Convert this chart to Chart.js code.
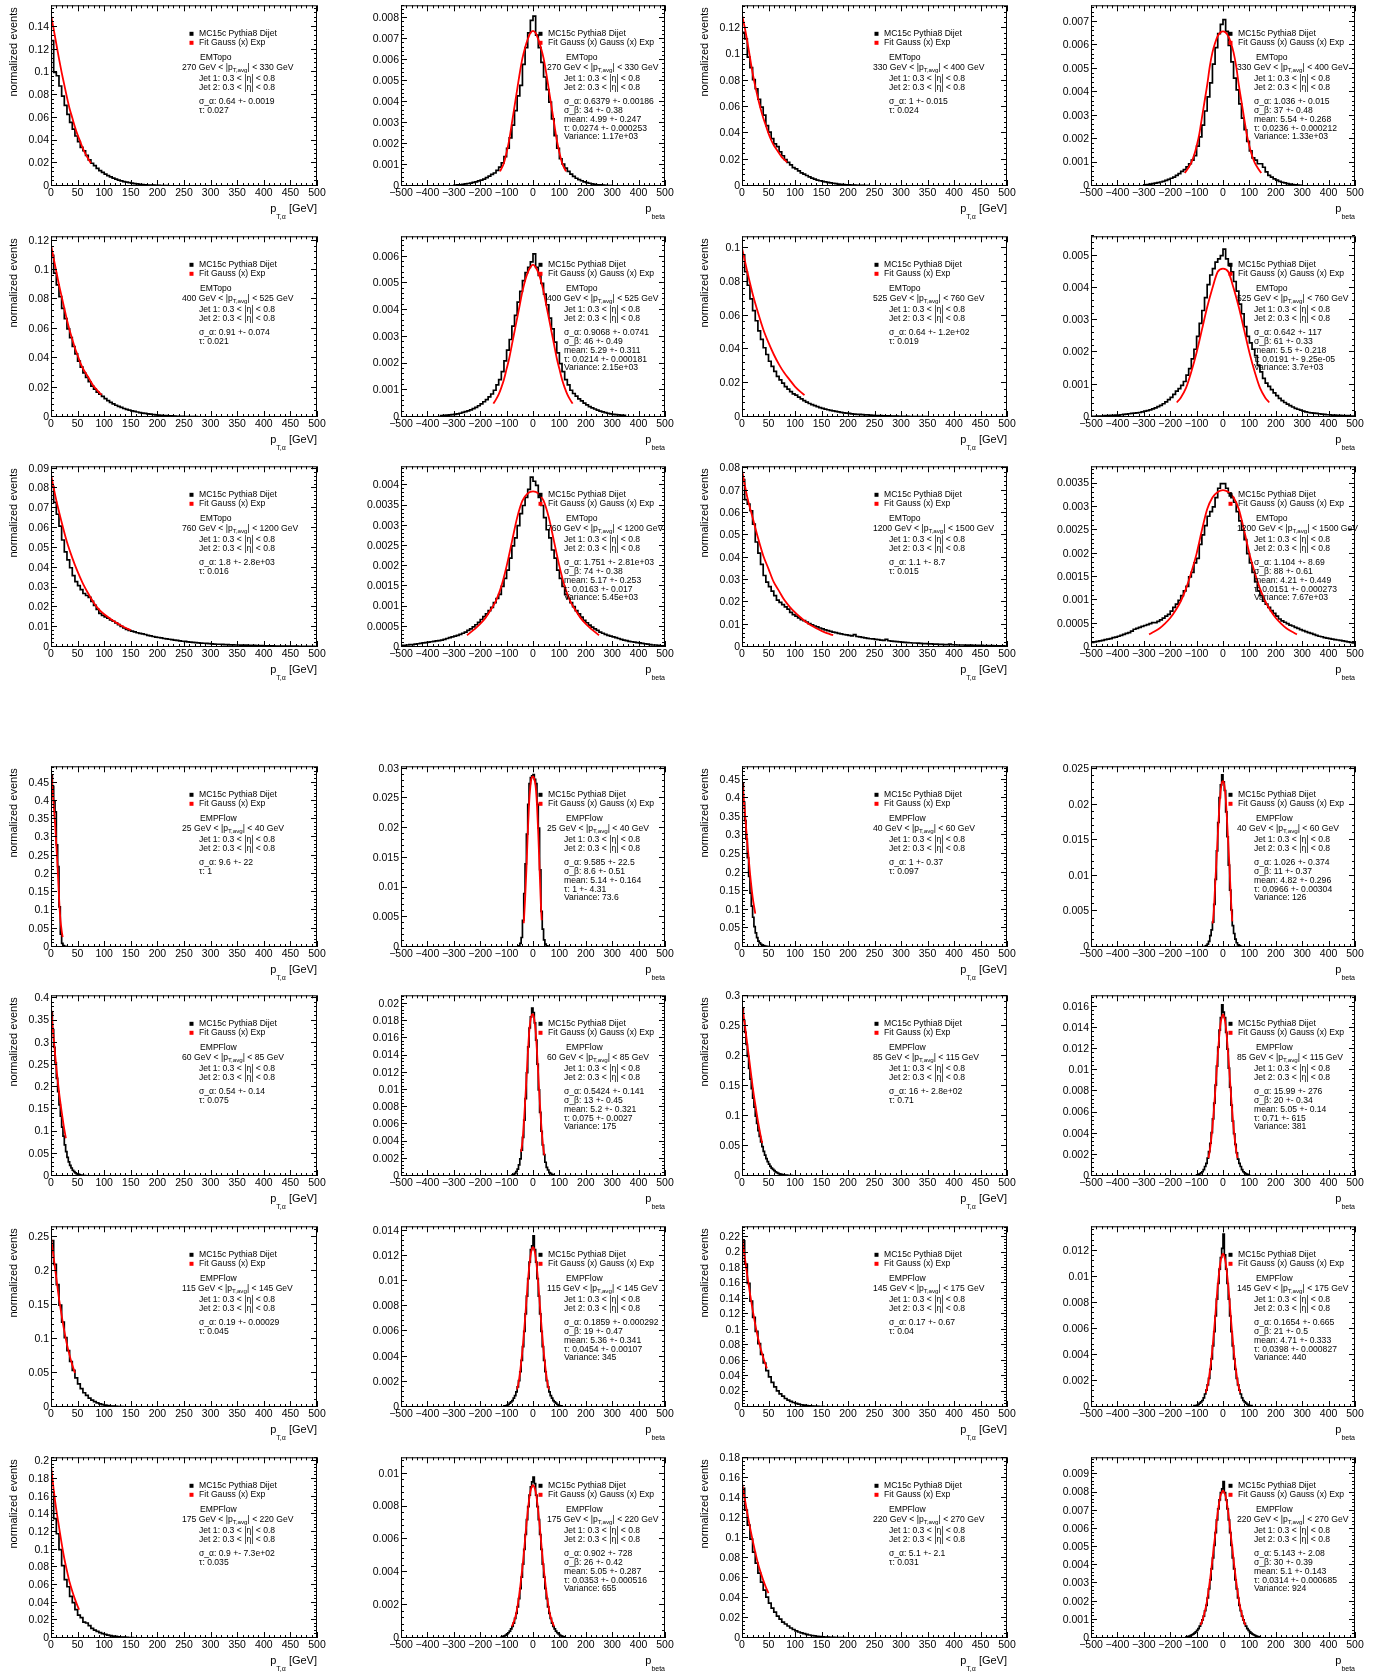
<!DOCTYPE html>
<html>
<head>
<meta charset="utf-8">
<script src="https://cdn.jsdelivr.net/npm/chart.js@4.4.1/dist/chart.umd.min.js"></script>
<style>
  html, body { margin: 0; padding: 0; background: #fff; }
  body { width: 1375px; height: 1672px; position: relative; overflow: hidden; }
  canvas { position: absolute; }
</style>
</head>
<body>
<script>
// ---------------- pT bins (|pT,avg| ranges, GeV) ----------------
const ptRanges = [[270,330],[330,400],[400,525],[525,760],[760,1200],[1200,1500],
                  [25,40],[40,60],[60,85],[85,115],[115,145],[145,175],[175,220],[220,270]];

// ---------------- y axis ranges / major steps, panel order (row by row) ----------------
const yAxisMax  = [0.159,0.00862,0.1375,0.00771, 0.123,0.00676,0.107,0.0056,
                   0.0912,0.00447,0.0809,0.00387, 0.495,0.0304,0.486,0.0254,
                   0.407,0.021,0.302,0.0171, 0.266,0.01435,0.234,0.0139,
                   0.2045,0.011,0.181,0.00994];
const yAxisStep = [0.02,0.001,0.02,0.001, 0.02,0.001,0.02,0.001,
                   0.01,0.0005,0.01,0.0005, 0.05,0.005,0.05,0.005,
                   0.05,0.002,0.05,0.002, 0.05,0.002,0.02,0.002,
                   0.02,0.002,0.02,0.001];
const xTicksAlpha = [0,50,100,150,200,250,300,350,400,450,500];
const xTicksBeta  = [-500,-400,-300,-200,-100,0,100,200,300,400,500];

// ================= EMTopo =================
// 270-330
const topoAlpha270 = [0.128,0.100,0.097,0.088,0.079,0.071,0.063,0.056,0.050,0.044,0.039,0.034,0.031,0.027,0.023,0.020,0.018,0.0155,0.0135,0.012,0.0105,0.0092,0.008,0.007,0.006,0.0052,0.0045,0.0039,0.0034,0.0029,0.0025,0.0021,0.0018,0.0015,0.0013,0.0011,0.0009,0.0008,0.0007,0.0006,0.0005,0.0004,0.0003,0.0003,0.0002,0.0002,0.0001,0.0001];
const topoAlpha270FitX = [0,5,10,15,20,25,30,35,40,45,50,55,60,65,70,75];
const topoAlpha270FitY = [0.150,0.138,0.125,0.112,0.100,0.089,0.078,0.068,0.060,0.052,0.045,0.039,0.033,0.028,0.024,0.020];
const topoAlpha270Text = ['σ_α: 0.64 +- 0.0019','τ: 0.027'];

const topoBeta270 = [0.00003,0.00005,0.00006,0.00008,0.0001,0.00012,0.00014,0.00017,0.0002,0.00024,0.00028,0.00033,0.0004,0.00047,0.00055,0.00062,0.00075,0.0009,0.0011,0.0014,0.0018,0.0023,0.0029,0.0036,0.0043,0.0048,0.0058,0.0066,0.0073,0.0079,
  0.0081,0.0072,0.0066,0.0059,0.0052,0.0046,0.004,0.0032,0.0024,0.0018,0.0013,0.00105,0.00085,0.0007,0.00057,0.00046,0.00037,0.0003,0.00025,0.0002,0.00016,0.00013,0.0001,0.00008,0.00006,0.00005,0.00004,0.00003,0.00002,0.00002];
const topoBeta270FitX = [-125,-110,-100,-90,-80,-70,-60,-50,-40,-30,-20,-10,0,10,20,30,40,50,60,70,80,90,100,110,125];
const topoBeta270FitY = [0.0007,0.0011,0.0016,0.0022,0.0030,0.0038,0.0046,0.0054,0.0061,0.0066,0.0070,0.0073,0.0074,0.0073,0.0070,0.0066,0.0061,0.0054,0.0046,0.0038,0.0030,0.0022,0.0016,0.0011,0.0007];
const topoBeta270Text = ['σ_α: 0.6379 +- 0.00186','σ_β: 34 +- 0.38','mean: 4.99 +- 0.247','τ: 0.0274 +- 0.000253','Variance: 1.17e+03'];

// 330-400
const topoAlpha330 = [0.117,0.112,0.098,0.090,0.081,0.074,0.066,0.060,0.054,0.046,0.041,0.036,0.032,0.030,0.026,0.023,0.020,0.018,0.016,0.014,0.013,0.0115,0.010,0.009,0.008,0.007,0.006,0.0052,0.0045,0.004,0.0036,0.0032,0.0028,0.0024,0.0021,0.0018,0.0015,0.0013,0.0011,0.0009,0.0008,0.0007,0.0006,0.0005,0.0004,0.0004,0.0003,0.0003,0.0002,0.0002,0.0002,0.0001];
const topoAlpha330FitX = [0,5,10,15,20,25,30,35,40,45,50,55,60,65,70,75,80,85];
const topoAlpha330FitY = [0.130,0.121,0.110,0.098,0.086,0.076,0.067,0.059,0.052,0.046,0.040,0.035,0.031,0.028,0.025,0.022,0.020,0.018];
const topoAlpha330Text = ['σ_α: 1 +- 0.015','τ: 0.024'];

const topoBeta330 = [0.00005,0.00006,0.00008,0.0001,0.00012,0.00014,0.00017,0.0002,0.00024,0.00028,0.00033,0.00038,0.00045,0.00053,0.00062,0.0007,0.00082,0.00095,0.0011,0.0013,0.0017,0.0021,0.0026,0.0032,0.0038,0.0044,0.0052,0.0059,0.0065,0.0069,
  0.0071,0.0066,0.0060,0.0053,0.0046,0.0041,0.0035,0.0029,0.0024,0.0019,0.0015,0.0012,0.0011,0.00095,0.00095,0.0008,0.0006,0.00045,0.00038,0.0003,0.00025,0.0002,0.00016,0.00013,0.0001,0.00008,0.00006,0.00005,0.00004,0.00003];
const topoBeta330FitX = [-145,-130,-120,-110,-100,-90,-80,-70,-60,-50,-40,-30,-20,-10,0,10,20,30,40,50,60,70,80,90,100,110,120,130,145];
const topoBeta330FitY = [0.00055,0.0008,0.001,0.0013,0.0017,0.0022,0.0029,0.0036,0.0043,0.0051,0.0057,0.0061,0.0064,0.00655,0.0066,0.00655,0.0064,0.0061,0.0057,0.0051,0.0043,0.0036,0.0029,0.0022,0.0017,0.0013,0.001,0.0008,0.00055];
const topoBeta330Text = ['σ_α: 1.036 +- 0.015','σ_β: 37 +- 0.48','mean: 5.54 +- 0.268','τ: 0.0236 +- 0.000212','Variance: 1.33e+03'];

// 400-525
const topoAlpha400 = [0.110,0.098,0.090,0.082,0.074,0.067,0.060,0.054,0.048,0.043,0.038,0.034,0.030,0.027,0.024,0.021,0.019,0.017,0.0155,0.014,0.0125,0.0112,0.010,0.009,0.008,0.0072,0.0065,0.0058,0.0052,0.0047,0.0042,0.0038,0.0034,0.003,0.0027,0.0024,0.0021,0.0019,0.0017,0.0015,0.0013,0.0012,0.001,0.0009,0.0008,0.0007,0.0006,0.0005,0.00045,0.0004,0.00035,0.0003,0.00025,0.0002,0.0002,0.00015,0.00015,0.0001,0.0001,0.0001];
const topoAlpha400FitX = [0,5,10,15,20,25,30,35,40,45,50,55,60,65,70,75,80,85,90,95];
const topoAlpha400FitY = [0.117,0.108,0.099,0.090,0.082,0.074,0.066,0.059,0.053,0.047,0.042,0.037,0.033,0.030,0.027,0.024,0.021,0.019,0.017,0.015];
const topoAlpha400Text = ['σ_α: 0.91 +- 0.074','τ: 0.021'];

const topoBeta400 = [0.00005,0.00006,0.00007,0.00008,0.00009,0.0001,0.00012,0.00014,0.00017,0.0002,0.00023,0.00027,0.00031,0.00036,0.00042,0.00049,0.00057,0.00065,0.00075,0.00086,0.001,0.0012,0.0014,0.0017,0.0021,0.0025,0.0029,0.0034,0.0038,0.0043,0.0047,0.0051,0.0054,0.0056,0.0058,
  0.0061,0.0056,0.0053,0.0050,0.0046,0.0042,0.0037,0.0033,0.0028,0.0024,0.0020,0.0017,0.0014,0.0012,0.0010,0.00088,0.00078,0.00068,0.0006,0.00052,0.00045,0.00039,0.00034,0.0003,0.00026,0.00022,0.00019,0.00016,0.00014,0.00012,0.0001,0.00009,0.00008,0.00007,0.00006];
const topoBeta400FitX = [-150,-140,-130,-120,-110,-100,-90,-80,-70,-60,-50,-40,-30,-20,-10,0,10,20,30,40,50,60,70,80,90,100,110,120,130,140,150];
const topoBeta400FitY = [0.0005,0.00066,0.00085,0.0011,0.0014,0.0018,0.0022,0.0027,0.0032,0.0037,0.0042,0.0047,0.0051,0.0054,0.0056,0.0057,0.0056,0.0054,0.0051,0.0047,0.0042,0.0037,0.0032,0.0027,0.0022,0.0018,0.0014,0.0011,0.00085,0.00066,0.0005];
const topoBeta400Text = ['σ_α: 0.9068 +- 0.0741','σ_β: 46 +- 0.49','mean: 5.29 +- 0.311','τ: 0.0214 +- 0.000181','Variance: 2.15e+03'];

// 525-760
const topoAlpha525 = [0.096,0.086,0.078,0.070,0.063,0.057,0.051,0.046,0.041,0.037,0.033,0.030,0.027,0.024,0.022,0.020,0.018,0.0165,0.015,0.0137,0.013,0.0118,0.0107,0.0097,0.0088,0.008,0.0073,0.0067,0.0061,0.0056,0.0051,0.0047,0.0043,0.0039,0.0036,0.0033,0.003,0.0027,0.0025,0.0023,0.0021,0.0019,0.0017,0.0016,0.0015,0.0014,0.0013,0.0012,0.0011,0.001,0.0009,0.00085,0.0008,0.00075,0.0007,0.00065,0.0006,0.00055,0.0005,0.00045,0.0004,0.00038,0.00035,0.0003,0.0003,0.00025,0.00025,0.0002,0.0002,0.0002,0.00015,0.00015,0.00012,0.0001,0.0001,0.0001,0.0001,0.00008,0.00008,0.00006];
const topoAlpha525FitX = [0,10,20,30,40,50,60,70,80,90,100,110,118];
const topoAlpha525FitY = [0.100,0.086,0.073,0.062,0.052,0.044,0.037,0.031,0.026,0.022,0.018,0.015,0.013];
const topoAlpha525Text = ['σ_α: 0.64 +- 1.2e+02','τ: 0.019'];

const topoBeta525 = [0.00002,0.00002,0.00003,0.00003,0.00003,0.00004,0.00004,0.00005,0.00005,0.00006,0.00006,0.00007,0.00008,0.00009,0.0001,0.00011,0.00012,0.00013,0.00014,0.00016,0.00018,0.0002,0.00022,0.00025,0.00028,0.00032,0.00036,0.00041,0.00047,0.00054,0.00061,0.0007,0.0008,0.00088,0.00098,0.0011,0.0013,0.0015,0.0018,0.0021,0.0025,0.0029,0.0033,0.0037,0.0041,0.0044,0.0046,0.0048,0.0049,0.005,
  0.0052,0.0049,0.0047,0.0045,0.0042,0.0039,0.0035,0.0032,0.0028,0.0025,0.0023,0.0021,0.0019,0.0016,0.0014,0.0012,0.00105,0.00095,0.00085,0.00075,0.00066,0.00058,0.00051,0.00045,0.0004,0.00035,0.00031,0.00027,0.00024,0.00021,0.00018,0.00016,0.00014,0.00013,0.00012,0.00011,0.0001,0.00009,0.00008,0.00007,0.00007,0.00006,0.00006,0.00005,0.00005,0.00004,0.00004,0.00004,0.00003,0.00003];
const topoBeta525FitX = [-175,-160,-140,-120,-100,-80,-60,-40,-20,0,20,40,60,80,100,120,140,160,175];
const topoBeta525FitY = [0.00045,0.0006,0.0009,0.0014,0.002,0.0027,0.0034,0.004,0.0045,0.0046,0.0045,0.004,0.0034,0.0027,0.002,0.0014,0.0009,0.0006,0.00045];
const topoBeta525Text = ['σ_α: 0.642 +- 117','σ_β: 61 +- 0.33','mean: 5.5 +- 0.218','τ: 0.0191 +- 9.25e-05','Variance: 3.7e+03'];

// 760-1200
const topoAlpha760 = [0.081,0.073,0.067,0.061,0.054,0.048,0.044,0.040,0.036,0.033,0.031,0.029,0.027,0.026,0.025,0.023,0.021,0.019,0.017,0.016,
  0.0152,0.0145,0.0137,0.013,0.0122,0.0113,0.0104,0.0096,0.0089,0.0084,0.008,0.0076,0.0072,0.0069,0.0066,0.0063,0.0059,0.0056,0.0053,0.005,
  0.0048,0.0046,0.0043,0.0041,0.0039,0.0037,0.0035,0.0033,0.0031,0.0029,0.0028,0.0026,0.0025,0.0023,0.0022,0.0021,0.002,0.0019,0.0018,0.0017,
  0.0016,0.0015,0.0014,0.0014,0.0013,0.0012,0.0012,0.0011,0.0011,0.001,0.001,0.0009,0.0009,0.0009,0.0008,0.0008,0.0008,0.0007,0.0007,0.0007,
  0.0006,0.0006,0.0006,0.0006,0.0005,0.0005,0.0005,0.0005,0.0004,0.0004,0.0004,0.0004,0.0004,0.0003,0.0003,0.0003,0.0003,0.0003,0.0003,0.0002];
const topoAlpha760FitX = [0,10,20,30,40,50,60,70,80,90,100,110,120,130,140,150];
const topoAlpha760FitY = [0.087,0.074,0.063,0.053,0.045,0.038,0.032,0.027,0.0225,0.019,0.0165,0.0145,0.0127,0.0111,0.0097,0.0085];
const topoAlpha760Text = ['σ_α: 1.8 +- 2.8e+03','τ: 0.016'];

const topoBeta760 = [0.00004,0.00004,0.00005,0.00006,0.00006,0.00007,0.00008,0.00009,0.0001,0.00011,0.00012,0.00013,0.00014,0.00015,0.00016,0.00017,0.00019,0.00021,0.00023,0.00025,0.00027,0.00029,0.00031,0.00034,0.00037,0.00041,0.00045,0.0005,0.00055,0.00061,0.00068,0.00075,0.00082,0.0009,0.00098,0.0011,0.0012,0.0013,0.0015,0.0017,0.0019,0.0022,0.0025,0.0027,0.003,0.0033,0.0035,0.0037,0.0039,0.0042,
  0.0041,0.004,0.0037,0.0035,0.0032,0.0029,0.0027,0.0024,0.0022,0.0019,0.0017,0.0015,0.0013,0.0012,0.0011,0.001,0.0009,0.00082,0.00074,0.00066,0.0006,0.00054,0.00049,0.00045,0.00041,0.00037,0.00034,0.00031,0.00029,0.00027,0.00025,0.00023,0.00021,0.00019,0.00017,0.00016,0.00014,0.00013,0.00012,0.00011,0.0001,0.00009,0.00008,0.00007,0.00006,0.00005,0.00005,0.00004,0.00003,0.00003];
const topoBeta760FitX = [-250,-220,-200,-180,-160,-140,-120,-100,-80,-60,-40,-20,0,20,40,60,80,100,120,140,160,180,200,220,250];
const topoBeta760FitY = [0.00029,0.00045,0.00057,0.00072,0.00092,0.00115,0.0015,0.002,0.0026,0.0032,0.00362,0.0038,0.00385,0.0038,0.00362,0.0032,0.0026,0.002,0.0015,0.00115,0.00092,0.00072,0.00057,0.00045,0.00029];
const topoBeta760Text = ['σ_α: 1.751 +- 2.81e+03','σ_β: 74 +- 0.38','mean: 5.17 +- 0.253','τ: 0.0163 +- 0.017','Variance: 5.45e+03'];

// 1200-1500
const topoAlpha1200 = [0.075,0.066,0.064,0.061,0.055,0.047,0.042,0.037,0.032,0.029,0.027,0.025,0.023,0.021,0.020,0.019,0.018,0.017,0.0155,0.0145,
  0.0138,0.013,0.0122,0.0118,0.0112,0.0105,0.0099,0.0094,0.009,0.0085,0.0081,0.0077,0.0073,0.007,0.0067,0.0064,0.0061,0.0059,0.0056,0.0054,
  0.0052,0.005,0.0055,0.0047,0.0045,0.0043,0.0041,0.0039,0.0037,0.0036,0.0034,0.0033,0.0031,0.003,0.0034,0.0028,0.0026,0.0025,0.0024,0.0023,
  0.0022,0.0021,0.002,0.0019,0.0018,0.0018,0.0017,0.0016,0.0015,0.0015,0.0014,0.0014,0.0013,0.0013,0.0012,0.0012,0.0011,0.0011,0.0013,0.001,
  0.001,0.0009,0.0009,0.0009,0.0008,0.0008,0.0008,0.0007,0.0007,0.0007,0.0007,0.0006,0.0006,0.0006,0.0006,0.0005,0.0005,0.0005,0.0005,0.0004];
const topoAlpha1200FitX = [0,10,20,30,40,50,60,70,80,90,100,110,120,130,140,150,160,172];
const topoAlpha1200FitY = [0.079,0.067,0.058,0.049,0.041,0.035,0.029,0.025,0.021,0.018,0.0155,0.0133,0.0113,0.0097,0.0084,0.0072,0.0062,0.0053];
const topoAlpha1200Text = ['σ_α: 1.1 +- 8.7','τ: 0.015'];

const topoBeta1200 = [0.0001,0.00011,0.00012,0.00013,0.00014,0.00016,0.00017,0.00018,0.0002,0.00021,0.00023,0.00025,0.00027,0.00029,0.00031,0.00034,0.00038,0.0004,0.00042,0.00044,0.00046,0.00048,0.0005,0.00052,0.00052,0.00055,0.00058,0.00062,0.00066,0.0007,0.00077,0.00085,0.00092,0.001,0.0011,0.0012,0.0013,0.0015,0.0016,0.0018,0.0019,0.0022,0.0024,0.0026,0.0028,0.0029,0.003,0.0032,0.0034,0.0035,
  0.0035,0.0034,0.0033,0.0032,0.0031,0.0029,0.0027,0.0025,0.0023,0.002,0.0018,0.0016,0.0014,0.0012,0.0011,0.00098,0.00092,0.00085,0.00078,0.00072,0.00066,0.0006,0.00056,0.00053,0.0005,0.00047,0.00045,0.00042,0.0004,0.00037,0.00035,0.00033,0.00031,0.00029,0.00027,0.00025,0.00023,0.00022,0.0002,0.00019,0.00018,0.00017,0.00016,0.00015,0.00014,0.00013,0.00012,0.00011,0.0001,0.00009];
const topoBeta1200FitX = [-280,-260,-240,-220,-200,-180,-160,-140,-120,-100,-80,-60,-40,-20,0,20,40,60,80,100,120,140,160,180,200,220,240,260,280];
const topoBeta1200FitY = [0.00027,0.00033,0.0004,0.0005,0.00062,0.00078,0.00098,0.00125,0.0016,0.002,0.0025,0.00295,0.0032,0.00332,0.00336,0.00332,0.0032,0.00295,0.0025,0.002,0.0016,0.00125,0.00098,0.00078,0.00062,0.0005,0.0004,0.00033,0.00027];
const topoBeta1200Text = ['σ_α: 1.104 +- 8.69','σ_β: 88 +- 0.61','mean: 4.21 +- 0.449','τ: 0.0151 +- 0.000273','Variance: 7.67e+03'];

// ================= EMPFlow =================
// 25-40
const pflowAlpha25 = [0.47,0.44,0.40,0.37,0.28,0.22,0.11,0.035,0.01,0.004,0.002,0.001];
const pflowAlpha25FitX = [0,2,4,6,8,10,12,14,16,18,20,22];
const pflowAlpha25FitY = [0.48,0.45,0.41,0.37,0.33,0.28,0.23,0.17,0.11,0.07,0.045,0.027];
const pflowAlpha25Text = ['σ_α: 9.6 +- 22','τ: 1'];

const pflowBeta25 = [0.0,0.0002,0.0006,0.0016,0.0045,0.009,0.014,0.019,0.024,0.0275,0.0285,0.0288,0.029,0.0282,0.0275,0.024,0.020,0.013,0.006,0.003,0.0012,0.0005,0.0002,0.0001];
const pflowBeta25FitX = [-35,-30,-25,-20,-15,-10,-5,0,5,10,15,20,25,30,33];
const pflowBeta25FitY = [0.004,0.008,0.013,0.019,0.024,0.027,0.0285,0.0287,0.0283,0.027,0.024,0.019,0.013,0.007,0.0045];
const pflowBeta25Text = ['σ_α: 9.585 +- 22.5','σ_β: 8.6 +- 0.51','mean: 5.14 +- 0.164','τ: 1 +- 4.31','Variance: 73.6'];

// 40-60
const pflowAlpha40 = [0.44,0.39,0.34,0.29,0.24,0.19,0.145,0.11,0.08,0.055,0.038,0.025,0.016,0.011,0.007,0.005,0.0035,0.0025,0.0018,0.0012,0.0008,0.0005];
const pflowAlpha40FitX = [0,5,10,15,20,25];
const pflowAlpha40FitY = [0.45,0.37,0.28,0.20,0.135,0.09];
const pflowAlpha40Text = ['σ_α: 1 +- 0.37','τ: 0.097'];

const pflowBeta40 = [0.0001,0.0002,0.0004,0.0008,0.0016,0.0024,0.0035,0.006,0.0095,0.0135,0.0175,0.021,0.0228,0.0242,0.0232,0.022,0.019,0.0155,0.0115,0.008,0.0052,0.003,0.0019,0.0011,0.0006,0.0003,0.0002,0.0001];
const pflowBeta40FitX = [-39,-35,-30,-25,-20,-15,-10,-5,0,5,10,15,20,25,30,35];
const pflowBeta40FitY = [0.0033,0.005,0.0085,0.012,0.0155,0.019,0.0215,0.023,0.0233,0.0228,0.021,0.018,0.0145,0.011,0.0068,0.0036];
const pflowBeta40Text = ['σ_α: 1.026 +- 0.374','σ_β: 11 +- 0.37','mean: 4.82 +- 0.296','τ: 0.0966 +- 0.00304','Variance: 126'];

// 60-85
const pflowAlpha60 = [0.37,0.33,0.29,0.255,0.22,0.19,0.16,0.135,0.11,0.09,0.07,0.055,0.042,0.032,0.024,0.018,0.013,0.01,0.007,0.005,0.004,0.003,0.002,0.0015,0.001,0.0007,0.0005,0.0003];
const pflowAlpha60FitX = [0,5,10,15,20,25,28];
const pflowAlpha60FitY = [0.38,0.31,0.245,0.19,0.145,0.105,0.085];
const pflowAlpha60Text = ['σ_α: 0.54 +- 0.14','τ: 0.075'];

const pflowBeta60 = [0.0001,0.0002,0.0003,0.0005,0.0008,0.0013,0.002,0.003,0.0045,0.0065,0.009,0.012,0.015,0.0172,0.0185,0.0195,0.019,0.0178,0.0158,0.013,0.010,0.0074,0.0052,0.0036,0.0025,0.0016,0.001,0.0007,0.0004,0.0003,0.0002,0.0001];
const pflowBeta60FitX = [-45,-40,-35,-30,-25,-20,-15,-10,-5,0,5,10,15,20,25,30,35,40,43];
const pflowBeta60FitY = [0.0028,0.004,0.006,0.0085,0.0112,0.014,0.0165,0.018,0.0187,0.0188,0.0182,0.0168,0.0145,0.0118,0.009,0.0065,0.0045,0.003,0.0024];
const pflowBeta60Text = ['σ_α: 0.5424 +- 0.141','σ_β: 13 +- 0.45','mean: 5.2 +- 0.321','τ: 0.075 +- 0.0027','Variance: 175'];

// 85-115
const pflowAlpha85 = [0.28,0.26,0.24,0.22,0.2,0.18,0.162,0.146,0.13,0.115,0.1,0.088,0.076,0.066,0.057,0.049,0.041,0.035,0.029,0.024,0.02,0.016,0.013,0.011,0.009,0.007,0.0055,0.0045,0.0035,0.003,0.0024,0.002,0.0016,0.0013,0.001,0.0008,0.0006,0.0005,0.0004,0.0003];
const pflowAlpha85FitX = [0,5,10,15,20,25,30,35,38];
const pflowAlpha85FitY = [0.285,0.255,0.22,0.185,0.15,0.12,0.092,0.068,0.055];
const pflowAlpha85Text = ['σ_α: 16 +- 2.8e+02','τ: 0.71'];

const pflowBeta85 = [0.0001,0.00015,0.0002,0.0003,0.0004,0.0006,0.0009,0.0012,0.0017,0.0023,0.0031,0.0041,0.0054,0.0069,0.0086,0.0104,0.0122,0.0138,0.015,0.0162,
  0.0155,0.015,0.0136,0.012,0.0102,0.0084,0.0067,0.0052,0.004,0.003,0.0022,0.0016,0.0012,0.0009,0.0006,0.0004,0.0003,0.0002,0.00015,0.0001];
const pflowBeta85FitX = [-55,-50,-45,-40,-35,-30,-25,-20,-15,-10,-5,0,5,10,15,20,25,30,35,40,45,50,55];
const pflowBeta85FitY = [0.0017,0.0024,0.0034,0.0046,0.0061,0.0078,0.0096,0.0114,0.013,0.0143,0.015,0.0153,0.015,0.0143,0.013,0.0114,0.0096,0.0078,0.0061,0.0046,0.0034,0.0024,0.0017];
const pflowBeta85Text = ['σ_α: 15.99 +- 276','σ_β: 20 +- 0.34','mean: 5.05 +- 0.14','τ: 0.71 +- 615','Variance: 381'];

// 115-145
const pflowAlpha115 = [0.245,0.21,0.18,0.15,0.125,0.102,0.083,0.067,0.054,0.043,0.034,0.027,0.021,0.017,0.013,0.01,0.008,0.006,0.0046,0.0035,0.0027,0.002,0.0015,0.0012,0.0009,0.0007,0.0005,0.0004,0.0003,0.0002];
const pflowAlpha115FitX = [0,5,10,15,20,25,30,35,40,45];
const pflowAlpha115FitY = [0.25,0.22,0.19,0.16,0.135,0.112,0.092,0.076,0.062,0.05];
const pflowAlpha115Text = ['σ_α: 0.19 +- 0.00029','τ: 0.045'];

const pflowBeta115 = [0.0001,0.0001,0.00015,0.0002,0.0003,0.0004,0.0005,0.0007,0.0009,0.0012,0.0016,0.0021,0.0028,0.0037,0.0048,0.006,0.0074,0.0088,0.0102,0.0115,0.0125,0.0128,
  0.0136,0.0125,0.0115,0.0102,0.0088,0.0074,0.006,0.0048,0.0037,0.0028,0.0021,0.0016,0.0012,0.0009,0.0007,0.0005,0.0004,0.0003,0.0002,0.00015,0.0001,0.0001];
const pflowBeta115FitX = [-60,-55,-50,-45,-40,-35,-30,-25,-20,-15,-10,-5,0,5,10,15,20,25,30,35,40,45,50,55,60];
const pflowBeta115FitY = [0.0014,0.0019,0.0026,0.0035,0.0045,0.0057,0.007,0.0084,0.0098,0.011,0.0119,0.0125,0.0127,0.0125,0.0119,0.011,0.0098,0.0084,0.007,0.0057,0.0045,0.0035,0.0026,0.0019,0.0014];
const pflowBeta115Text = ['σ_α: 0.1859 +- 0.000292','σ_β: 19 +- 0.47','mean: 5.36 +- 0.341','τ: 0.0454 +- 0.00107','Variance: 345'];

// 145-175
const pflowAlpha145 = [0.215,0.185,0.16,0.137,0.116,0.098,0.082,0.068,0.057,0.047,0.039,0.032,0.026,0.021,0.017,0.014,0.011,0.009,0.0072,0.0058,0.0046,0.0037,0.0029,0.0023,0.0018,0.0014,0.0011,0.0009,0.0007,0.0005,0.0004,0.0003,0.0002,0.0002];
const pflowAlpha145FitX = [0,5,10,15,20,25,30,35,40,45,47];
const pflowAlpha145FitY = [0.22,0.195,0.17,0.147,0.126,0.107,0.09,0.076,0.064,0.054,0.05];
const pflowAlpha145Text = ['σ_α: 0.17 +- 0.67','τ: 0.04'];

const pflowBeta145 = [0.0001,0.0001,0.00015,0.0002,0.0003,0.0004,0.0005,0.0007,0.001,0.0013,0.0017,0.0022,0.0029,0.0037,0.0047,0.0058,0.007,0.0083,0.0095,0.0106,0.0115,0.0122,
  0.0133,0.0117,0.0106,0.0095,0.0083,0.007,0.0058,0.0047,0.0037,0.0029,0.0022,0.0017,0.0013,0.001,0.0007,0.0005,0.0004,0.0003,0.0002,0.00015,0.0001,0.0001];
const pflowBeta145FitX = [-65,-60,-55,-50,-45,-40,-35,-30,-25,-20,-15,-10,-5,0,5,10,15,20,25,30,35,40,45,50,55,60,65];
const pflowBeta145FitY = [0.0011,0.0015,0.002,0.0027,0.0035,0.0045,0.0056,0.0068,0.0081,0.0093,0.0103,0.0111,0.0116,0.0118,0.0116,0.0111,0.0103,0.0093,0.0081,0.0068,0.0056,0.0045,0.0035,0.0027,0.002,0.0015,0.0011];
const pflowBeta145Text = ['σ_α: 0.1654 +- 0.665','σ_β: 21 +- 0.5','mean: 4.71 +- 0.333','τ: 0.0398 +- 0.000827','Variance: 440'];

// 175-220
const pflowAlpha175 = [0.165,0.135,0.118,0.1,0.082,0.066,0.058,0.047,0.04,0.032,0.026,0.023,0.018,0.017,0.014,0.011,0.009,0.0075,0.006,0.005,0.004,0.0033,0.0027,0.0022,0.0018,0.0014,0.0011,0.0009,0.0007,0.0005,0.0004,0.0003,0.0002];
const pflowAlpha175FitX = [0,5,10,15,20,25,30,35,40,45,50,53];
const pflowAlpha175FitY = [0.195,0.168,0.145,0.126,0.107,0.09,0.076,0.063,0.053,0.044,0.036,0.032];
const pflowAlpha175Text = ['σ_α: 0.9 +- 7.3e+02','τ: 0.035'];

const pflowBeta175 = [0.00007,0.0001,0.00013,0.00018,0.00025,0.00032,0.00042,0.00055,0.0007,0.0009,0.0012,0.0015,0.0019,0.0024,0.003,0.0037,0.0045,0.0054,0.0063,0.0072,0.008,0.0087,0.0092,0.0095,
  0.0098,0.0094,0.0087,0.008,0.0072,0.0063,0.0054,0.0045,0.0037,0.003,0.0024,0.0019,0.0015,0.0012,0.0009,0.0007,0.00055,0.00042,0.00032,0.00025,0.00018,0.00013,0.0001,0.00007];
const pflowBeta175FitX = [-80,-75,-70,-65,-60,-55,-50,-45,-40,-35,-30,-25,-20,-15,-10,-5,0,5,10,15,20,25,30,35,40,45,50,55,60,65,70,75,80];
const pflowBeta175FitY = [0.0007,0.0009,0.0011,0.0014,0.0018,0.0023,0.0029,0.0036,0.0043,0.0051,0.006,0.0069,0.0077,0.0084,0.0089,0.0092,0.0093,0.0092,0.0089,0.0084,0.0077,0.0069,0.006,0.0051,0.0043,0.0036,0.0029,0.0023,0.0018,0.0014,0.0011,0.0009,0.0007];
const pflowBeta175Text = ['σ_α: 0.902 +- 728','σ_β: 26 +- 0.42','mean: 5.05 +- 0.287','τ: 0.0353 +- 0.000516','Variance: 655'];

// 220-270
const pflowAlpha220 = [0.15,0.128,0.113,0.099,0.086,0.075,0.065,0.056,0.048,0.041,0.035,0.03,0.026,0.022,0.019,0.016,0.014,0.012,0.01,0.0085,0.0072,0.006,0.0051,0.0043,0.0036,0.003,0.0025,0.0021,0.0017,0.0014,0.0012,0.001,0.0008,0.0007,0.0006,0.0005,0.0004,0.0003,0.0003,0.0002];
const pflowAlpha220FitX = [0,5,10,15,20,25,30,35,40,45,50];
const pflowAlpha220FitY = [0.155,0.14,0.125,0.111,0.098,0.086,0.075,0.066,0.058,0.051,0.045];
const pflowAlpha220Text = ['σ_α: 5.1 +- 2.1','τ: 0.031'];

const pflowBeta220 = [0.00006,0.00008,0.0001,0.00013,0.00017,0.00021,0.00027,0.00034,0.00042,0.00052,0.00065,0.0008,0.001,0.0012,0.0015,0.0018,0.0022,0.0027,0.0032,0.0038,0.0044,0.0051,0.0058,0.0065,0.0071,0.0076,0.008,0.0082,
  0.0086,0.008,0.0076,0.0071,0.0065,0.0058,0.0051,0.0044,0.0038,0.0032,0.0027,0.0022,0.0018,0.0015,0.0012,0.001,0.0008,0.00065,0.00052,0.00042,0.00034,0.00027,0.00021,0.00017,0.00013,0.0001,0.00008,0.00006];
const pflowBeta220FitX = [-85,-80,-75,-70,-65,-60,-55,-50,-45,-40,-35,-30,-25,-20,-15,-10,-5,0,5,10,15,20,25,30,35,40,45,50,55,60,65,70,75,80,85];
const pflowBeta220FitY = [0.0007,0.0009,0.0011,0.0014,0.0017,0.0021,0.0026,0.0031,0.0037,0.0043,0.005,0.0056,0.0063,0.0069,0.0074,0.0078,0.008,0.0081,0.008,0.0078,0.0074,0.0069,0.0063,0.0056,0.005,0.0043,0.0037,0.0031,0.0026,0.0021,0.0017,0.0014,0.0011,0.0009,0.0007];
const pflowBeta220Text = ['σ_α: 5.143 +- 2.08','σ_β: 30 +- 0.39','mean: 5.1 +- 0.143','τ: 0.0314 +- 0.000685','Variance: 924'];

// ---------------- panel table: [histogram, first bin edge, bin width, fit x, fit y, fit text] ----------------
const panelTable = [
  [topoAlpha270, 0, 5, topoAlpha270FitX, topoAlpha270FitY, topoAlpha270Text],
  [topoBeta270, -300, 10, topoBeta270FitX, topoBeta270FitY, topoBeta270Text],
  [topoAlpha330, 0, 5, topoAlpha330FitX, topoAlpha330FitY, topoAlpha330Text],
  [topoBeta330, -300, 10, topoBeta330FitX, topoBeta330FitY, topoBeta330Text],
  [topoAlpha400, 0, 5, topoAlpha400FitX, topoAlpha400FitY, topoAlpha400Text],
  [topoBeta400, -350, 10, topoBeta400FitX, topoBeta400FitY, topoBeta400Text],
  [topoAlpha525, 0, 5, topoAlpha525FitX, topoAlpha525FitY, topoAlpha525Text],
  [topoBeta525, -500, 10, topoBeta525FitX, topoBeta525FitY, topoBeta525Text],
  [topoAlpha760, 0, 5, topoAlpha760FitX, topoAlpha760FitY, topoAlpha760Text],
  [topoBeta760, -500, 10, topoBeta760FitX, topoBeta760FitY, topoBeta760Text],
  [topoAlpha1200, 0, 5, topoAlpha1200FitX, topoAlpha1200FitY, topoAlpha1200Text],
  [topoBeta1200, -500, 10, topoBeta1200FitX, topoBeta1200FitY, topoBeta1200Text],
  [pflowAlpha25, 0, 2.5, pflowAlpha25FitX, pflowAlpha25FitY, pflowAlpha25Text],
  [pflowBeta25, -60, 5, pflowBeta25FitX, pflowBeta25FitY, pflowBeta25Text],
  [pflowAlpha40, 0, 2.5, pflowAlpha40FitX, pflowAlpha40FitY, pflowAlpha40Text],
  [pflowBeta40, -70, 5, pflowBeta40FitX, pflowBeta40FitY, pflowBeta40Text],
  [pflowAlpha60, 0, 2.5, pflowAlpha60FitX, pflowAlpha60FitY, pflowAlpha60Text],
  [pflowBeta60, -80, 5, pflowBeta60FitX, pflowBeta60FitY, pflowBeta60Text],
  [pflowAlpha85, 0, 2.5, pflowAlpha85FitX, pflowAlpha85FitY, pflowAlpha85Text],
  [pflowBeta85, -100, 5, pflowBeta85FitX, pflowBeta85FitY, pflowBeta85Text],
  [pflowAlpha115, 0, 5, pflowAlpha115FitX, pflowAlpha115FitY, pflowAlpha115Text],
  [pflowBeta115, -110, 5, pflowBeta115FitX, pflowBeta115FitY, pflowBeta115Text],
  [pflowAlpha145, 0, 5, pflowAlpha145FitX, pflowAlpha145FitY, pflowAlpha145Text],
  [pflowBeta145, -110, 5, pflowBeta145FitX, pflowBeta145FitY, pflowBeta145Text],
  [pflowAlpha175, 0, 5, pflowAlpha175FitX, pflowAlpha175FitY, pflowAlpha175Text],
  [pflowBeta175, -120, 5, pflowBeta175FitX, pflowBeta175FitY, pflowBeta175Text],
  [pflowAlpha220, 0, 5, pflowAlpha220FitX, pflowAlpha220FitY, pflowAlpha220Text],
  [pflowBeta220, -140, 5, pflowBeta220FitX, pflowBeta220FitY, pflowBeta220Text]
];

// ---------------- page layout (pixels) ----------------
const FRAME_L = [51, 401, 742, 1091];
const FRAME_W = [266, 264, 265, 264];
const FRAME_T = [5, 236, 466, 766, 995, 1226, 1457];
const FRAME_H = 181;
const AXIS_W = 51, AXIS_H = 36, PAD_T = 8, PAD_R = 14;
const LEG_X = [199, 548, 884, 1238];
const TAG_X = [200, 566, 889, 1256];
const PT_X  = [182, 547, 873, 1237];
const PAR_X = [199, 564, 889, 1254];

const FONT = "'Liberation Sans', Arial, Helvetica, sans-serif";
Chart.defaults.font.family = FONT;
Chart.defaults.color = '#000';

const fmtY = v => String(parseFloat(v.toPrecision(6)));
const fmtX = v => v < 0 ? '\u2212' + (-v) : String(v);

function histPoints(h, x0, w) {
  const pts = [{x: x0, y: 0}];
  h.forEach((v, i) => pts.push({x: x0 + i * w, y: v}));
  pts.push({x: x0 + h.length * w, y: 0});
  return pts;
}

// ROOT-like frame, inward ticks, legend and fit annotation
function makeDecor(p) {
  return {
    id: 'rootDecor',
    afterDraw(chart) {
      const {ctx, chartArea: a, scales} = chart;
      const xs = scales.x, ys = scales.y;
      ctx.save();
      ctx.strokeStyle = '#000';
      ctx.lineWidth = 1;
      ctx.beginPath();
      const xMajor = p.beta ? 100 : 50, xMinor = xMajor / 5;
      const nx = Math.round((xs.max - xs.min) / xMinor);
      for (let k = 0; k <= nx; k++) {
        const v = xs.min + k * xMinor;
        const px = Math.round(xs.getPixelForValue(v)) + 0.5;
        const len = k % 5 === 0 ? 6 : 3;
        ctx.moveTo(px, a.bottom); ctx.lineTo(px, a.bottom - len);
        ctx.moveTo(px, a.top); ctx.lineTo(px, a.top + len);
      }
      const yMinor = p.yStep / 5;
      for (let k = 0; k * yMinor <= ys.max * (1 + 1e-9); k++) {
        const py = Math.round(ys.getPixelForValue(k * yMinor)) - 0.5;
        const len = k % 5 === 0 ? 6 : 3;
        ctx.moveTo(a.left, py); ctx.lineTo(a.left + len, py);
        ctx.moveTo(a.right, py); ctx.lineTo(a.right - len, py);
      }
      ctx.stroke();
      ctx.strokeRect(a.left + 0.5, a.top + 0.5, a.right - a.left - 1, a.bottom - a.top - 1);

      const L = x => x - p.canvasLeft;
      const T = a.top;
      ctx.textBaseline = 'middle';
      ctx.textAlign = 'left';
      ctx.font = '8.6px ' + FONT;
      // legend
      ctx.fillStyle = '#000';
      ctx.fillRect(L(LEG_X[p.col]) - 9.5, T + 26.5, 4, 4);
      ctx.fillText('MC15c Pythia8 Dijet', L(LEG_X[p.col]), T + 28.5);
      ctx.fillStyle = '#ff0000';
      ctx.fillRect(L(LEG_X[p.col]) - 9.5, T + 35.5, 4, 4);
      ctx.fillStyle = '#000';
      ctx.fillText(p.beta ? 'Fit Gauss (x) Gauss (x) Exp' : 'Fit Gauss (x) Exp', L(LEG_X[p.col]), T + 37.5);
      // selection
      ctx.fillText(p.algo, L(TAG_X[p.col]), T + 52);
      let x = L(PT_X[p.col]);
      const s1 = p.pt[0] + ' GeV < |p';
      ctx.fillText(s1, x, T + 62); x += ctx.measureText(s1).width;
      ctx.font = '6.2px ' + FONT;
      ctx.fillText('T,avg', x, T + 65); x += ctx.measureText('T,avg').width;
      ctx.font = '8.6px ' + FONT;
      ctx.fillText('| < ' + p.pt[1] + ' GeV', x, T + 62);
      ctx.fillText('Jet 1: 0.3 < |η| < 0.8', L(PAR_X[p.col]), T + 73.5);
      ctx.fillText('Jet 2: 0.3 < |η| < 0.8', L(PAR_X[p.col]), T + 82.5);
      p.text.forEach((s, i) => ctx.fillText(s, L(PAR_X[p.col]), T + 96.5 + i * 8.8));

      // x axis title with subscript, right-aligned to the frame
      const main = '11px ' + FONT, sub = '7px ' + FONT;
      const parts = p.beta ? [['p', main, 0], ['beta', sub, 8]]
                           : [['p', main, 0], ['T,α', sub, 8], [' [GeV]', main, 0]];
      let w = 0;
      parts.forEach(([s, f]) => { ctx.font = f; w += ctx.measureText(s).width; });
      x = a.right - w;
      parts.forEach(([s, f, dy]) => {
        ctx.font = f; ctx.fillText(s, x, a.bottom + 23 + dy); x += ctx.measureText(s).width;
      });
      // y axis title (top-aligned, rotated)
      if (!p.beta) {
        ctx.save();
        ctx.translate(a.left - 37, a.top + 2);
        ctx.rotate(-Math.PI / 2);
        ctx.textAlign = 'right';
        ctx.font = '11px ' + FONT;
        ctx.fillText('normalized events', 0, 0);
        ctx.restore();
      }
      ctx.restore();
    }
  };
}

panelTable.forEach((row, i) => {
  const [hist, h0, hw, fx, fy, text] = row;
  const r = Math.floor(i / 4), c = i % 4;
  const beta = c % 2 === 1;
  const p = {
    col: c, beta, text,
    algo: r < 3 ? 'EMTopo' : 'EMPFlow',
    pt: ptRanges[r * 2 + (c >= 2 ? 1 : 0)],
    yStep: yAxisStep[i],
    canvasLeft: FRAME_L[c] - AXIS_W
  };
  const cv = document.createElement('canvas');
  cv.width = AXIS_W + FRAME_W[c] + PAD_R;
  cv.height = PAD_T + FRAME_H + AXIS_H;
  cv.style.left = (FRAME_L[c] - AXIS_W) + 'px';
  cv.style.top = (FRAME_T[r] - PAD_T) + 'px';
  document.body.appendChild(cv);

  const yTicks = [];
  for (let k = 0; k * yAxisStep[i] <= yAxisMax[i] * (1 + 1e-9); k++) yTicks.push(k * yAxisStep[i]);
  const xTicks = beta ? xTicksBeta : xTicksAlpha;

  new Chart(cv, {
    type: 'line',
    data: {
      datasets: [
        { data: fx.map((x, k) => ({x, y: fy[k]})), borderColor: '#ff0000', borderWidth: 1.8,
          pointRadius: 0, cubicInterpolationMode: 'monotone', fill: false, order: 0 },
        { data: histPoints(hist, h0, hw), borderColor: '#000', borderWidth: 1.7,
          pointRadius: 0, stepped: true, fill: false, order: 1 }
      ]
    },
    options: {
      responsive: false, animation: false, events: [],
      layout: { padding: { left: 0, right: PAD_R, top: PAD_T, bottom: 0 } },
      plugins: { legend: { display: false }, tooltip: { enabled: false } },
      scales: {
        x: {
          type: 'linear', min: beta ? -500 : 0, max: 500, bounds: 'data',
          grid: { display: false, drawTicks: false }, border: { display: false },
          ticks: { padding: 1, autoSkip: false, maxRotation: 0, minRotation: 0,
                   font: { size: 10.5 }, color: '#000', callback: fmtX },
          afterBuildTicks: s => { s.ticks = xTicks.map(v => ({ value: v })); },
          afterFit: s => { s.height = AXIS_H; }
        },
        y: {
          type: 'linear', min: 0, max: yAxisMax[i], bounds: 'data',
          grid: { display: false, drawTicks: false }, border: { display: false },
          ticks: { padding: 2, autoSkip: false, font: { size: 10.5 }, color: '#000', callback: fmtY },
          afterBuildTicks: s => { s.ticks = yTicks.map(v => ({ value: v })); },
          afterFit: s => { s.width = AXIS_W; }
        }
      }
    },
    plugins: [makeDecor(p)]
  });
});
</script>
</body>
</html>
